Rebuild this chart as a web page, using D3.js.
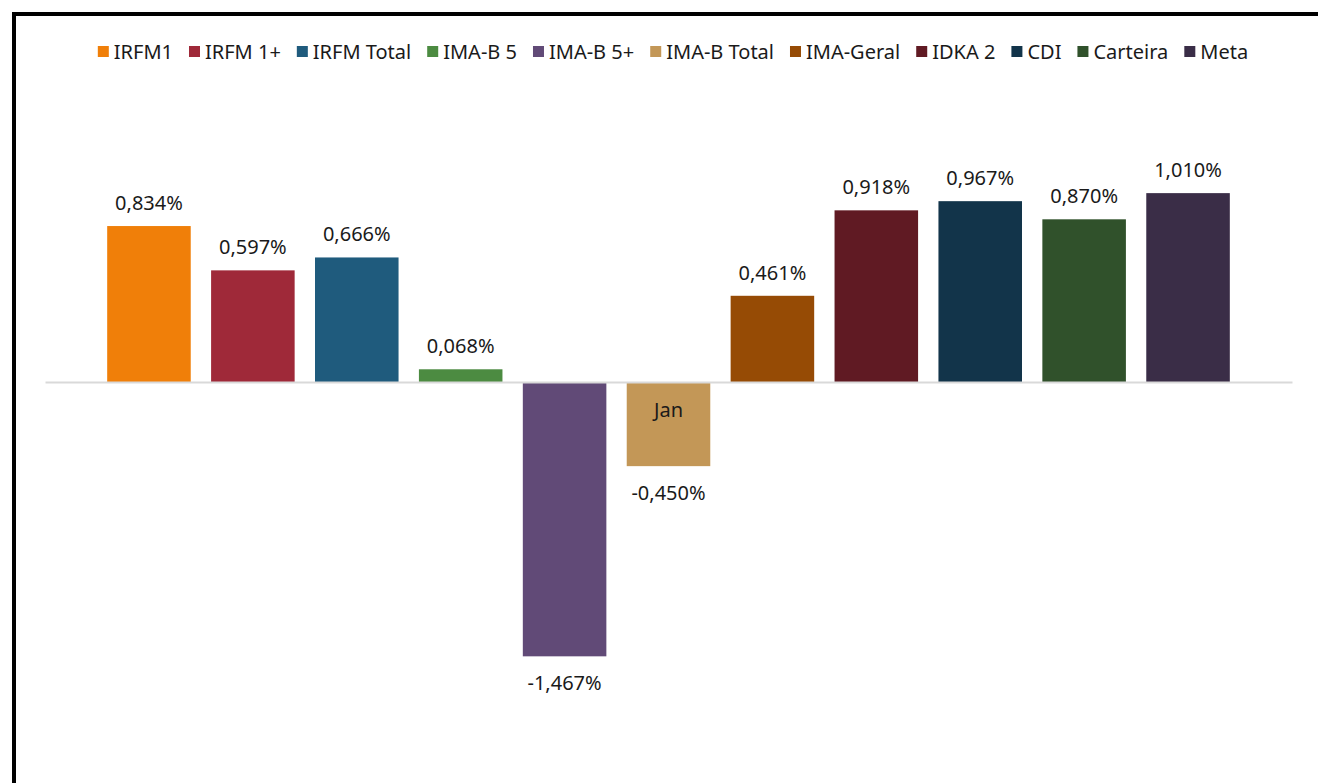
<!DOCTYPE html>
<html lang="pt">
<head>
<meta charset="utf-8">
<script src="https://d3js.org/d3.v7.min.js"></script>
<style>
  body { margin: 0; background: #fff; }
  svg text { font-family: "Noto Sans", "Open Sans", sans-serif; fill: #1a1a1a; }
</style>
</head>
<body>
<script>
var width = 1318;
var height = 783;

// data
var categories = ["Jan"];
var seriesNames = ["IRFM1", "IRFM 1+", "IRFM Total", "IMA-B 5", "IMA-B 5+", "IMA-B Total",
                   "IMA-Geral", "IDKA 2", "CDI", "Carteira", "Meta"];
var seriesValues = [0.834, 0.597, 0.666, 0.068, -1.467, -0.450, 0.461, 0.918, 0.967, 0.870, 1.010];
var seriesColors = ["#f07f09", "#9f2939", "#1f5b7d", "#4c8b41", "#614a77", "#c39757",
                    "#964b05", "#601a23", "#12344a", "#30512b", "#3a2d47"];

var fmt = function(v) { return v.toFixed(3).replace(".", ",") + "%"; };

var svg = d3.select("body").append("svg")
    .attr("width", width)
    .attr("height", height);

// outer frame
svg.append("rect")
    .attr("x", 14).attr("y", 14)
    .attr("width", width + 20).attr("height", height + 20)
    .attr("fill", "none")
    .attr("stroke", "#000")
    .attr("stroke-width", 4);

// scales
var x0 = d3.scaleBand()
    .domain(categories)
    .range([45, 1292])
    .paddingOuter(0.0455);

var x1 = d3.scaleBand()
    .domain(seriesNames)
    .range([0, x0.bandwidth()])
    .paddingInner(0.196)
    .paddingOuter(0.098);

var y = d3.scaleLinear()
    .domain([-2, 1.5])
    .range([756, 101.5]);

var color = d3.scaleOrdinal().domain(seriesNames).range(seriesColors);

var rows = seriesNames.map(function(n, i) { return { name: n, value: seriesValues[i] }; });

// bars
var group = svg.selectAll("g.cat")
    .data(categories)
    .enter().append("g")
    .attr("class", "cat")
    .attr("transform", function(d) { return "translate(" + x0(d) + ",0)"; });

group.selectAll("rect")
    .data(rows)
    .enter().append("rect")
    .attr("x", function(d) { return x1(d.name); })
    .attr("y", function(d) { return y(Math.max(0, d.value)); })
    .attr("width", x1.bandwidth())
    .attr("height", function(d) { return Math.abs(y(d.value) - y(0)); })
    .attr("fill", function(d) { return color(d.name); });

// value labels
group.selectAll("text.val")
    .data(rows)
    .enter().append("text")
    .attr("class", "val")
    .attr("x", function(d) { return x1(d.name) + x1.bandwidth() / 2; })
    .attr("y", function(d) { return d.value >= 0 ? y(d.value) - 16 : y(d.value) + 34; })
    .attr("text-anchor", "middle")
    .style("font-size", "20px")
    .text(function(d) { return fmt(d.value); });

// category axis at zero
var axis = svg.append("g")
    .attr("transform", "translate(0," + y(0) + ")")
    .call(d3.axisBottom(x0).tickSize(0).tickPadding(21).tickSizeOuter(0));

axis.select(".domain")
    .attr("stroke", "#d9d9d9")
    .attr("stroke-width", 2);

axis.selectAll("text")
    .style("font-size", "20px")
    .attr("fill", "#1a1a1a");

// legend
var legend = svg.append("g").attr("class", "legend");

var items = legend.selectAll("g")
    .data(seriesNames)
    .enter().append("g");

items.append("rect")
    .attr("width", 11)
    .attr("height", 11)
    .attr("y", -6)
    .attr("fill", function(d) { return color(d); });

items.append("text")
    .attr("x", 16)
    .attr("dy", "0.35em")
    .style("font-size", "20px")
    .text(function(d) { return d; });

var offset = 0;
items.each(function() {
    var g = d3.select(this);
    g.attr("transform", "translate(" + offset + ",52)");
    offset += 16 + g.select("text").node().getComputedTextLength() + 16;
});
var legendWidth = offset - 16;
legend.attr("transform", "translate(" + (673 - legendWidth / 2) + ",0)");
</script>
</body>
</html>
